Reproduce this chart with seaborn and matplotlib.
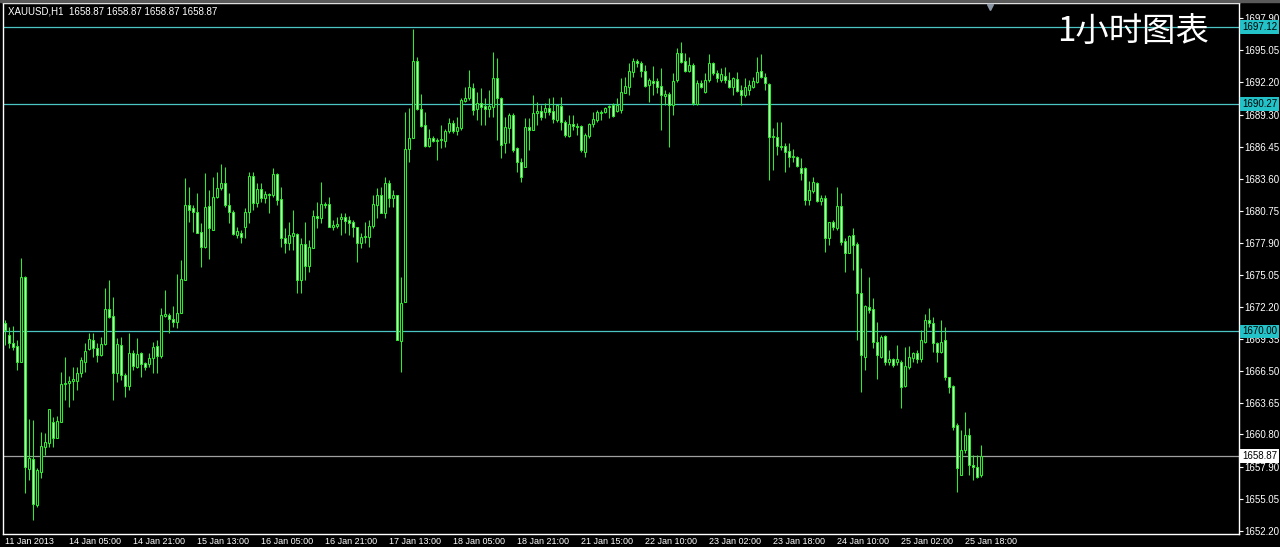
import numpy as np
import pandas as pd
import matplotlib
matplotlib.use("Agg")
import matplotlib.pyplot as plt
import seaborn as sns

# ---------------- data (XAUUSD H1) ----------------
opens = [
    1670.72, 1669.65, 1668.94, 1668.67, 1667.25, 1674.82, 1657.71, 1658.60, 1654.50, 1657.44,
    1659.67, 1660.03, 1661.90, 1660.47, 1661.90, 1665.29, 1665.37, 1665.55, 1665.55, 1666.27,
    1667.25, 1668.40, 1669.21, 1668.49, 1667.87, 1668.85, 1671.97, 1671.34, 1666.27, 1668.76,
    1666.09, 1665.11, 1668.05, 1666.80, 1668.05, 1667.16, 1667.07, 1667.60, 1668.67, 1667.78,
    1671.34, 1671.43, 1671.08, 1670.81, 1671.61, 1674.55, 1681.23, 1680.97, 1680.61, 1678.83,
    1677.49, 1681.15, 1679.01, 1681.95, 1682.75, 1683.19, 1681.23, 1680.61, 1678.56, 1678.74,
    1679.27, 1680.61, 1683.82, 1681.41, 1682.66, 1681.86, 1682.21, 1682.13, 1684.00, 1681.77,
    1678.29, 1677.85, 1678.47, 1678.65, 1674.55, 1677.76, 1675.80, 1677.40, 1680.25, 1680.08,
    1681.32, 1681.32, 1679.27, 1679.36, 1679.99, 1680.17, 1679.90, 1679.72, 1679.27, 1677.85,
    1678.38, 1678.38, 1679.36, 1681.23, 1682.13, 1680.52, 1683.19, 1681.86, 1682.13, 1669.12,
    1672.59, 1686.22, 1687.20, 1694.07, 1689.79, 1688.36, 1686.49, 1687.20, 1686.94, 1687.03,
    1686.94, 1687.83, 1688.54, 1687.83, 1688.10, 1690.50, 1690.77, 1691.66, 1689.79, 1690.32,
    1690.06, 1689.79, 1689.97, 1692.55, 1690.77, 1686.76, 1688.10, 1689.25, 1686.31, 1685.07,
    1684.62, 1688.18, 1687.92, 1689.43, 1689.61, 1689.52, 1689.88, 1689.61, 1688.81, 1690.06,
    1688.63, 1687.38, 1688.45, 1688.27, 1688.27, 1685.96, 1687.38, 1688.45, 1688.81, 1689.43,
    1689.52, 1689.97, 1690.14, 1689.61, 1689.70, 1691.21, 1691.75, 1693.08, 1694.07, 1693.89,
    1693.17, 1691.93, 1692.28, 1692.28, 1691.84, 1690.95, 1691.12, 1690.14, 1692.37, 1694.78,
    1694.07, 1693.17, 1693.71, 1690.23, 1692.10, 1691.30, 1692.37, 1693.89, 1693.00, 1692.37,
    1692.73, 1692.37, 1691.75, 1692.46, 1691.48, 1691.04, 1691.48, 1691.75, 1692.19, 1693.17,
    1692.64, 1692.02, 1687.29, 1687.29, 1686.49, 1686.49, 1686.05, 1685.51, 1685.51, 1684.53,
    1684.53, 1681.68, 1682.48, 1683.19, 1681.59, 1681.86, 1678.29, 1679.72, 1679.19, 1681.15,
    1678.03, 1676.96, 1678.56, 1677.76, 1673.39, 1667.69, 1672.15, 1671.97, 1669.03, 1667.69,
    1669.56, 1667.25, 1667.51, 1667.25, 1667.25, 1665.11, 1666.80, 1667.60, 1668.05, 1667.51,
    1669.03, 1670.99, 1670.72, 1668.94, 1668.14, 1669.21, 1665.91, 1665.11, 1661.63, 1657.18,
    1659.41, 1660.74, 1658.07, 1657.89, 1657.18,
]
highs = [
    1670.99, 1670.36, 1670.45, 1669.21, 1676.51, 1674.91, 1662.17, 1662.08, 1657.80, 1661.01,
    1660.92, 1663.06, 1662.35, 1662.43, 1666.35, 1667.69, 1666.00, 1666.80, 1666.80, 1667.69,
    1668.94, 1669.83, 1669.83, 1668.94, 1669.47, 1673.84, 1674.55, 1673.04, 1669.38, 1669.47,
    1666.27, 1669.83, 1668.32, 1669.38, 1668.14, 1667.25, 1668.05, 1669.03, 1669.21, 1672.06,
    1673.66, 1671.61, 1672.24, 1675.09, 1676.34, 1683.64, 1682.84, 1681.23, 1682.30, 1679.63,
    1684.09, 1682.57, 1683.73, 1684.17, 1684.89, 1684.62, 1682.30, 1680.79, 1679.27, 1679.01,
    1680.97, 1684.17, 1684.17, 1683.19, 1683.19, 1682.48, 1682.30, 1684.53, 1684.09, 1682.84,
    1679.19, 1679.72, 1680.79, 1678.74, 1678.29, 1679.72, 1678.12, 1680.79, 1681.50, 1683.28,
    1681.50, 1681.95, 1679.90, 1680.17, 1680.52, 1680.52, 1680.25, 1679.90, 1679.27, 1678.74,
    1679.72, 1679.90, 1682.13, 1682.75, 1682.84, 1683.73, 1683.46, 1682.57, 1682.13, 1674.82,
    1689.52, 1689.88, 1696.92, 1694.42, 1691.12, 1689.52, 1688.01, 1687.38, 1687.20, 1688.36,
    1688.01, 1688.99, 1688.81, 1689.08, 1690.77, 1691.75, 1693.26, 1692.10, 1691.30, 1691.66,
    1690.77, 1691.48, 1694.87, 1694.33, 1690.86, 1689.08, 1689.43, 1689.43, 1686.40, 1685.42,
    1688.99, 1688.99, 1691.04, 1690.41, 1690.14, 1690.32, 1690.77, 1690.86, 1690.14, 1690.86,
    1688.81, 1689.25, 1689.25, 1688.54, 1688.36, 1687.65, 1688.54, 1689.52, 1689.70, 1689.70,
    1689.97, 1690.14, 1690.32, 1690.77, 1692.55, 1692.64, 1693.89, 1694.33, 1694.24, 1694.07,
    1693.71, 1692.55, 1693.62, 1692.55, 1693.44, 1691.48, 1691.30, 1693.00, 1695.22, 1695.76,
    1694.78, 1694.42, 1693.89, 1692.37, 1692.37, 1693.00, 1694.69, 1693.98, 1693.26, 1693.44,
    1693.53, 1693.08, 1692.64, 1693.08, 1691.93, 1692.55, 1692.37, 1692.64, 1694.42, 1694.69,
    1693.00, 1692.10, 1688.10, 1688.63, 1688.63, 1686.76, 1686.76, 1686.22, 1685.60, 1685.42,
    1684.62, 1683.37, 1683.73, 1683.28, 1682.13, 1682.13, 1679.72, 1679.90, 1682.84, 1682.30,
    1678.29, 1678.56, 1679.19, 1677.94, 1675.62, 1672.32, 1674.82, 1672.95, 1670.81, 1669.65,
    1669.65, 1668.32, 1667.60, 1668.76, 1667.42, 1668.58, 1668.67, 1668.14, 1668.32, 1670.10,
    1671.52, 1672.06, 1671.25, 1669.03, 1670.99, 1670.36, 1665.91, 1665.20, 1661.81, 1661.19,
    1662.79, 1661.37, 1658.96, 1658.96, 1659.85,
]
lows = [
    1668.76, 1668.49, 1668.32, 1666.53, 1667.25, 1655.57, 1656.73, 1653.17, 1654.33, 1656.91,
    1658.96, 1659.67, 1659.67, 1660.47, 1661.90, 1663.86, 1663.24, 1663.86, 1664.75, 1665.91,
    1666.35, 1668.32, 1667.69, 1667.25, 1667.78, 1668.76, 1671.17, 1663.86, 1665.46, 1665.64,
    1664.13, 1664.75, 1666.53, 1666.71, 1665.91, 1666.53, 1666.80, 1666.27, 1666.27, 1667.60,
    1671.25, 1669.83, 1670.36, 1670.28, 1671.61, 1674.55, 1679.72, 1678.83, 1678.74, 1675.71,
    1677.40, 1676.42, 1679.01, 1681.86, 1682.57, 1681.06, 1679.63, 1678.56, 1678.29, 1677.85,
    1678.29, 1679.63, 1680.79, 1681.06, 1681.50, 1681.41, 1680.52, 1681.95, 1681.23, 1677.49,
    1676.96, 1677.23, 1677.23, 1673.39, 1673.39, 1674.55, 1675.26, 1677.40, 1679.19, 1679.63,
    1680.97, 1679.27, 1679.01, 1679.19, 1678.56, 1678.74, 1678.56, 1678.38, 1676.16, 1677.40,
    1677.85, 1677.49, 1679.19, 1680.08, 1680.52, 1680.08, 1681.06, 1681.06, 1669.21, 1666.35,
    1672.59, 1685.07, 1687.20, 1689.70, 1688.18, 1686.40, 1686.40, 1686.85, 1685.24, 1686.31,
    1686.40, 1687.65, 1687.65, 1687.47, 1687.92, 1690.41, 1690.59, 1689.25, 1688.81, 1688.36,
    1688.36, 1689.08, 1689.08, 1687.03, 1685.42, 1685.87, 1686.76, 1685.96, 1684.17, 1683.28,
    1684.62, 1686.13, 1687.92, 1688.36, 1688.81, 1688.99, 1689.25, 1688.54, 1688.63, 1687.92,
    1687.29, 1687.29, 1687.92, 1687.47, 1685.96, 1685.51, 1687.20, 1688.18, 1688.63, 1688.81,
    1689.43, 1688.99, 1689.08, 1689.52, 1689.43, 1691.21, 1691.04, 1692.64, 1693.53, 1692.64,
    1691.75, 1690.41, 1691.04, 1691.21, 1687.92, 1690.14, 1686.40, 1689.25, 1692.19, 1693.89,
    1693.08, 1693.08, 1690.14, 1690.14, 1691.66, 1691.21, 1692.19, 1692.82, 1692.19, 1692.19,
    1692.10, 1691.66, 1691.04, 1691.30, 1690.14, 1690.86, 1691.04, 1691.66, 1692.10, 1692.55,
    1691.48, 1683.46, 1684.35, 1685.69, 1686.13, 1684.17, 1684.62, 1685.07, 1684.62, 1683.46,
    1681.23, 1681.23, 1682.30, 1681.50, 1681.23, 1677.05, 1677.67, 1679.01, 1679.01, 1677.67,
    1675.26, 1676.96, 1675.44, 1669.21, 1664.57, 1666.53, 1671.61, 1668.49, 1665.73, 1667.60,
    1666.98, 1666.98, 1666.80, 1666.98, 1663.15, 1665.02, 1666.62, 1667.25, 1667.16, 1667.25,
    1668.94, 1670.36, 1668.14, 1667.25, 1668.05, 1665.64, 1664.48, 1661.19, 1655.66, 1657.18,
    1659.14, 1657.18, 1656.73, 1656.91, 1657.00,
]
closes = [
    1670.10, 1668.94, 1668.58, 1667.25, 1674.82, 1657.89, 1658.69, 1654.59, 1657.62, 1659.76,
    1660.12, 1663.06, 1660.47, 1661.99, 1665.29, 1665.37, 1665.55, 1665.73, 1666.27, 1667.42,
    1668.23, 1669.30, 1668.49, 1667.87, 1668.85, 1671.97, 1671.25, 1666.27, 1668.85, 1666.09,
    1665.11, 1668.05, 1666.89, 1667.96, 1667.07, 1666.80, 1667.60, 1668.58, 1667.78, 1671.43,
    1671.52, 1671.08, 1670.81, 1671.61, 1674.64, 1681.23, 1680.79, 1680.61, 1678.74, 1677.49,
    1681.06, 1679.19, 1681.95, 1682.75, 1683.19, 1681.23, 1680.61, 1678.65, 1678.92, 1678.38,
    1680.61, 1683.82, 1681.41, 1682.66, 1681.86, 1682.21, 1682.13, 1684.00, 1681.68, 1678.29,
    1677.85, 1678.56, 1678.74, 1674.55, 1677.76, 1675.80, 1677.49, 1680.25, 1680.08, 1681.32,
    1681.23, 1679.27, 1679.45, 1679.54, 1680.17, 1679.81, 1679.63, 1679.27, 1677.85, 1678.38,
    1678.47, 1679.36, 1681.32, 1682.13, 1680.52, 1683.19, 1681.86, 1682.13, 1669.21, 1672.50,
    1686.22, 1687.20, 1694.07, 1689.79, 1688.27, 1686.49, 1687.20, 1686.94, 1687.03, 1687.12,
    1687.83, 1688.54, 1687.83, 1688.18, 1690.59, 1690.77, 1691.75, 1689.70, 1690.32, 1689.97,
    1689.79, 1690.06, 1692.55, 1690.77, 1686.58, 1688.18, 1689.25, 1686.13, 1685.07, 1683.73,
    1688.18, 1687.92, 1689.43, 1689.61, 1689.08, 1689.88, 1689.52, 1688.90, 1690.14, 1688.63,
    1687.47, 1688.45, 1688.27, 1688.18, 1686.13, 1687.47, 1688.45, 1688.90, 1689.52, 1689.52,
    1689.88, 1690.06, 1689.16, 1690.14, 1691.30, 1691.84, 1693.17, 1694.07, 1693.89, 1693.17,
    1691.84, 1692.37, 1692.10, 1691.75, 1691.04, 1691.12, 1690.14, 1692.28, 1694.78, 1693.98,
    1693.17, 1693.71, 1690.32, 1692.10, 1691.75, 1692.37, 1693.89, 1693.00, 1692.55, 1692.91,
    1692.37, 1691.75, 1692.55, 1691.39, 1691.04, 1691.75, 1691.93, 1692.28, 1693.08, 1692.64,
    1692.10, 1687.29, 1687.38, 1686.49, 1686.40, 1685.96, 1685.51, 1685.60, 1684.71, 1684.09,
    1681.68, 1682.57, 1683.28, 1681.59, 1681.86, 1678.29, 1679.72, 1679.27, 1681.15, 1677.94,
    1676.96, 1678.47, 1677.67, 1673.39, 1667.87, 1672.24, 1671.88, 1669.03, 1667.87, 1669.47,
    1667.25, 1667.51, 1666.98, 1667.51, 1665.02, 1666.89, 1667.69, 1668.05, 1667.51, 1669.21,
    1670.99, 1670.72, 1668.94, 1668.14, 1669.03, 1665.91, 1665.02, 1661.45, 1657.80, 1659.41,
    1660.74, 1658.07, 1657.89, 1657.00, 1658.87,
]

x_tick_bars = [0, 16, 32, 48, 64, 80, 96, 112, 128, 144, 160, 176, 192, 208, 224, 240]
x_tick_labels = ["11 Jan 2013", "14 Jan 05:00", "14 Jan 21:00", "15 Jan 13:00",
                 "16 Jan 05:00", "16 Jan 21:00", "17 Jan 13:00", "18 Jan 05:00",
                 "18 Jan 21:00", "21 Jan 15:00", "22 Jan 10:00", "23 Jan 02:00",
                 "23 Jan 18:00", "24 Jan 10:00", "25 Jan 02:00", "25 Jan 18:00"]
y_tick_labels = ["1697.90", "1695.05", "1692.20", "1689.30", "1686.45", "1683.60",
                 "1680.75", "1677.90", "1675.05", "1672.20", "1669.35", "1666.50",
                 "1663.65", "1660.80", "1657.90", "1655.05", "1652.20"]
level_lines = [1697.12, 1690.27, 1670.00]
bid_price = 1658.87
symbol_header = "XAUUSD,H1  1658.87 1658.87 1658.87 1658.87"
title_text = "1小时图表"

# ---------------- style ----------------
sns.set_theme(style="dark", rc={
    "figure.facecolor": "black", "axes.facecolor": "black",
    "axes.edgecolor": "white", "text.color": "white",
    "xtick.color": "white", "ytick.color": "white",
    "axes.grid": False,
})
plt.rcParams["font.family"] = ["Liberation Sans", "DejaVu Sans"]

df = pd.DataFrame({"open": opens, "high": highs, "low": lows, "close": closes})
df["bar"] = np.arange(len(df))
df["bull"] = df["close"] >= df["open"]

W, H = 1280, 547
fig = plt.figure(figsize=(W / 100, H / 100), dpi=100)
ax = fig.add_axes([3 / W, (H - 534) / H, (1238.5 - 3) / W, (534 - 3) / H])
ax.set_facecolor("black")

green = "#2af02a"
# wicks
ax.vlines(df["bar"], df["low"], df["high"], colors=green, linewidth=0.75, zorder=3)
# bodies
bottoms = np.minimum(df["open"], df["close"])
heights = (df["close"] - df["open"]).abs()
faces = np.where(df["bull"], "black", "#c8ffc8")
ax.bar(df["bar"], heights, bottom=bottoms, width=0.5, color=faces,
       edgecolor=green, linewidth=0.75, zorder=4)

# horizontal level lines
for lv in level_lines:
    ax.axhline(lv, color="#4cc4c4", linewidth=0.9, zorder=2)
ax.axhline(bid_price, color="#a0a0a0", linewidth=0.9, zorder=2)

ax.set_xlim(-0.5, 308.4)
ax.set_ylim(1651.93, 1699.26)

# axes ticks
ax.yaxis.tick_right()
ax.set_yticks([float(v) for v in y_tick_labels])
ax.set_yticklabels(y_tick_labels)
ax.set_xticks(x_tick_bars)
ax.set_xticklabels(x_tick_labels, ha="left")
ax.tick_params(axis="y", direction="out", length=3, width=0.8, pad=1.5,
               labelsize=7, colors="white")
ax.tick_params(axis="x", direction="out", length=2.5, width=0.8, pad=0,
               labelsize=6.5, colors="white")
for lbl in ax.get_xticklabels():
    lbl.set_horizontalalignment("left")
for sp in ax.spines.values():
    sp.set_color("white")
    sp.set_linewidth(1.0)

# price boxes on the right scale
for lv in level_lines:
    ax.annotate(f"{lv:.2f}", xy=(1.0, lv), xycoords=("axes fraction", "data"),
                xytext=(2.5, 0), textcoords="offset points", ha="left", va="center",
                fontsize=7, color="black", annotation_clip=False, zorder=10,
                bbox=dict(boxstyle="square,pad=0.18", fc="#22c2c8", ec="none"))
ax.annotate(f"{bid_price:.2f}", xy=(1.0, bid_price), xycoords=("axes fraction", "data"),
            xytext=(2.5, 0), textcoords="offset points", ha="left", va="center",
            fontsize=7, color="black", annotation_clip=False, zorder=10,
            bbox=dict(boxstyle="square,pad=0.18", fc="white", ec="none"))

# chart shift marker
ax.plot([(990 - 3) / (1238.5 - 3)], [0.993], marker="v", markersize=5,
        color="#8a96a4", transform=ax.transAxes, clip_on=False, zorder=10)

# header and title
fig.text(8 / W, 1 - 12 / H, symbol_header, fontsize=7, color="white",
         ha="left", va="center")
fig.text(1057 / W, 1 - 32 / H, title_text, fontsize=24, color="white",
         ha="left", va="center", family=["Noto Sans CJK SC", "DejaVu Sans"],
         fontweight="light")

# window top edge strip
fig.patches.append(plt.Rectangle((0, 1 - 2 / H), 1, 2 / H, transform=fig.transFigure,
                                 color="#5a5a5a", zorder=0))

fig.savefig("out.png", dpi=100, facecolor="black")
